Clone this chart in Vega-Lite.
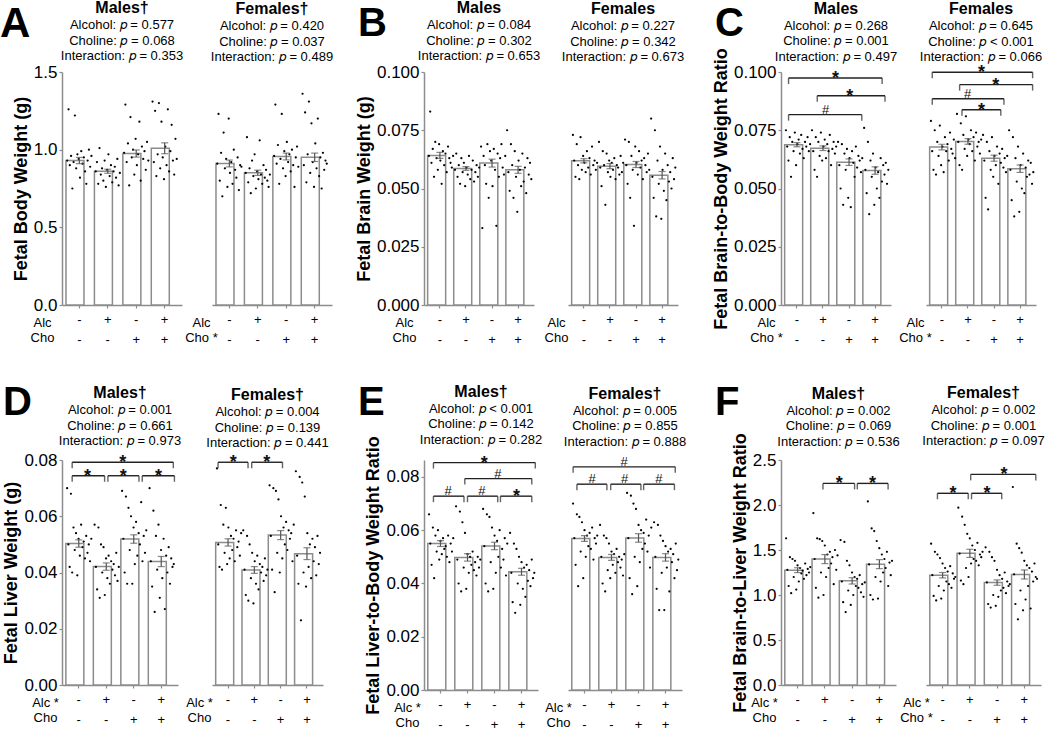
{
"$schema":"https://vega.github.io/schema/vega-lite/v6.json",
"padding":{"left":0,"top":0,"right":0,"bottom":0},
"config":{
 "font":"Liberation Sans",
 "view":{"stroke":null},
 "axis":{"grid":false,"domainColor":"#8c8c8c","tickColor":"#8c8c8c","labelColor":"#000","titleColor":"#000","labelFont":"Liberation Sans","titleFont":"Liberation Sans","domainWidth":1.5,"tickWidth":1.2},
 "axisY":{"labelFontSize":17,"titleFontSize":18,"titleFontWeight":"bold","tickSize":3,"labelPadding":2,"titlePadding":3},
 "axisX":{"labelFontSize":13,"labelAngle":0,"labelLineHeight":20,"labelBaseline":"top","labelPadding":5,"tickSize":3,"titleFontSize":13,"titleFontWeight":"normal","titleLineHeight":15,"titleY":11,"titleAlign":"center","titleBaseline":"top","labelOverlap":false,"labelFlush":false},
 "title":{"font":"Liberation Sans","fontSize":16,"fontWeight":"bold","color":"#000","subtitleFont":"Liberation Sans","subtitleFontSize":13,"subtitleColor":"#000","subtitlePadding":3,"subtitleLineHeight":15.5,"anchor":"middle","frame":"group"}
},
"datasets":{
"AMb":[{"g":1,"m":0.93,"lo":0.91,"hi":0.95},{"g":2,"m":0.861,"lo":0.848,"hi":0.874},{"g":3,"m":0.975,"lo":0.952,"hi":0.998},{"g":4,"m":1.009,"lo":0.974,"hi":1.044}],
"AFb":[{"g":1,"m":0.911,"lo":0.889,"hi":0.933},{"g":2,"m":0.851,"lo":0.834,"hi":0.868},{"g":3,"m":0.956,"lo":0.934,"hi":0.978},{"g":4,"m":0.951,"lo":0.924,"hi":0.978}],
"BMb":[{"g":1,"m":0.0642,"lo":0.0629,"hi":0.0655},{"g":2,"m":0.0586,"lo":0.0578,"hi":0.0594},{"g":3,"m":0.0609,"lo":0.0592,"hi":0.0626},{"g":4,"m":0.058,"lo":0.0565,"hi":0.0595}],
"BFb":[{"g":1,"m":0.0619,"lo":0.061,"hi":0.0628},{"g":2,"m":0.0596,"lo":0.0585,"hi":0.0607},{"g":3,"m":0.0603,"lo":0.059,"hi":0.0616},{"g":4,"m":0.0557,"lo":0.0541,"hi":0.0573}],
"CMb":[{"g":1,"m":0.0688,"lo":0.0679,"hi":0.0697},{"g":2,"m":0.0673,"lo":0.0663,"hi":0.0683},{"g":3,"m":0.0613,"lo":0.0599,"hi":0.0627},{"g":4,"m":0.0577,"lo":0.0561,"hi":0.0593}],
"CFb":[{"g":1,"m":0.0678,"lo":0.0666,"hi":0.069},{"g":2,"m":0.0702,"lo":0.069,"hi":0.0714},{"g":3,"m":0.063,"lo":0.0617,"hi":0.0643},{"g":4,"m":0.0585,"lo":0.0569,"hi":0.0601}],
"DMb":[{"g":1,"m":0.0503,"lo":0.049,"hi":0.0516},{"g":2,"m":0.0421,"lo":0.0408,"hi":0.0434},{"g":3,"m":0.0519,"lo":0.0504,"hi":0.0534},{"g":4,"m":0.0439,"lo":0.0421,"hi":0.0457}],
"DFb":[{"g":1,"m":0.0507,"lo":0.0494,"hi":0.052},{"g":2,"m":0.0409,"lo":0.0397,"hi":0.0421},{"g":3,"m":0.0533,"lo":0.0517,"hi":0.0549},{"g":4,"m":0.0467,"lo":0.0446,"hi":0.0488}],
"EMb":[{"g":1,"m":0.055,"lo":0.0539,"hi":0.0561},{"g":2,"m":0.0498,"lo":0.0484,"hi":0.0512},{"g":3,"m":0.0541,"lo":0.0527,"hi":0.0555},{"g":4,"m":0.0444,"lo":0.0431,"hi":0.0457}],
"EFb":[{"g":1,"m":0.0569,"lo":0.0558,"hi":0.058},{"g":2,"m":0.0498,"lo":0.0487,"hi":0.0509},{"g":3,"m":0.0571,"lo":0.0555,"hi":0.0587},{"g":4,"m":0.0498,"lo":0.0484,"hi":0.0512}],
"FMb":[{"g":1,"m":1.276,"lo":1.249,"hi":1.303},{"g":2,"m":1.399,"lo":1.349,"hi":1.449},{"g":3,"m":1.157,"lo":1.122,"hi":1.192},{"g":4,"m":1.343,"lo":1.293,"hi":1.393}],
"FFb":[{"g":1,"m":1.22,"lo":1.19,"hi":1.25},{"g":2,"m":1.463,"lo":1.418,"hi":1.508},{"g":3,"m":1.138,"lo":1.108,"hi":1.168},{"g":4,"m":1.228,"lo":1.178,"hi":1.278}],
"CMk":[{"x1":0.68,"x2":4.27,"xm":2.48,"y":0.0974,"t":"*"},{"x1":1.78,"x2":4.38,"xm":3.03,"y":0.0898,"t":"*"},{"x1":0.68,"x2":3.49,"xm":2.1,"y":0.0817,"t":"#"}],
"CFk":[{"x1":0.63,"x2":4.48,"xm":2.52,"y":0.0999,"t":"*"},{"x1":1.68,"x2":4.48,"xm":3.07,"y":0.0946,"t":"*"},{"x1":0.63,"x2":3.38,"xm":1.99,"y":0.0885,"t":"#"},{"x1":1.77,"x2":3.26,"xm":2.52,"y":0.0838,"t":"*"}],
"DMk":[{"x1":0.76,"x2":4.44,"xm":2.6,"y":0.0792,"t":"*"},{"x1":0.76,"x2":1.94,"xm":1.32,"y":0.0744,"t":"*"},{"x1":2.06,"x2":3.19,"xm":2.62,"y":0.0744,"t":"*"},{"x1":3.31,"x2":4.48,"xm":3.9,"y":0.0744,"t":"*"}],
"DFk":[{"x1":0.62,"x2":1.76,"xm":1.2,"y":0.0792,"t":"*"},{"x1":1.9,"x2":3.07,"xm":2.47,"y":0.0792,"t":"*"}],
"EMk":[{"x1":0.74,"x2":4.51,"xm":2.62,"y":0.0854,"t":"*"},{"x1":1.9,"x2":4.38,"xm":3.12,"y":0.0794,"t":"#"},{"x1":0.74,"x2":1.87,"xm":1.28,"y":0.0728,"t":"#"},{"x1":2.0,"x2":3.12,"xm":2.53,"y":0.0728,"t":"#"},{"x1":3.22,"x2":4.38,"xm":3.81,"y":0.0728,"t":"*"}],
"EFk":[{"x1":0.58,"x2":4.36,"xm":2.47,"y":0.0838,"t":"#"},{"x1":0.72,"x2":1.83,"xm":1.28,"y":0.0773,"t":"#"},{"x1":1.97,"x2":3.09,"xm":2.49,"y":0.0773,"t":"#"},{"x1":3.19,"x2":4.33,"xm":3.75,"y":0.0773,"t":"#"}],
"FMk":[{"x1":1.93,"x2":3.09,"xm":2.53,"y":2.24,"t":"*"},{"x1":3.19,"x2":4.32,"xm":3.75,"y":2.24,"t":"*"}],
"FFk":[{"x1":2.03,"x2":4.42,"xm":3.25,"y":2.34,"t":"*"},{"x1":0.81,"x2":1.94,"xm":1.38,"y":2.13,"t":"*"},{"x1":2.06,"x2":3.17,"xm":2.63,"y":2.13,"t":"*"}],
"AMd":[{"g":1,"v":0.93},{"g":1,"v":1.26},{"g":1,"v":0.9},{"g":1,"v":0.96},{"g":1,"v":0.75},{"g":1,"v":0.92},{"g":1,"v":1.22},{"g":1,"v":0.88},{"g":1,"v":0.97},{"g":1,"v":0.94},{"g":1,"v":0.82},{"g":1,"v":0.99},{"g":1,"v":0.91},{"g":1,"v":0.95},{"g":1,"v":0.86},{"g":1,"v":0.78},{"g":1,"v":0.93},{"g":1,"v":1.0},{"g":1,"v":0.89},{"g":1,"v":0.96},
{"g":2,"v":0.86},{"g":2,"v":0.92},{"g":2,"v":0.78},{"g":2,"v":1.01},{"g":2,"v":0.84},{"g":2,"v":0.88},{"g":2,"v":0.8},{"g":2,"v":0.93},{"g":2,"v":0.76},{"g":2,"v":0.87},{"g":2,"v":0.97},{"g":2,"v":0.83},{"g":2,"v":0.9},{"g":2,"v":0.79},{"g":2,"v":0.86},{"g":2,"v":0.89},{"g":2,"v":0.82},{"g":2,"v":0.94},{"g":2,"v":0.77},{"g":2,"v":0.85},
{"g":3,"v":0.98},{"g":3,"v":1.29},{"g":3,"v":0.92},{"g":3,"v":1.04},{"g":3,"v":0.77},{"g":3,"v":1.21},{"g":3,"v":0.95},{"g":3,"v":1.0},{"g":3,"v":0.84},{"g":3,"v":1.07},{"g":3,"v":0.9},{"g":3,"v":0.97},{"g":3,"v":1.18},{"g":3,"v":0.8},{"g":3,"v":1.02},{"g":3,"v":0.94},{"g":3,"v":0.99},{"g":3,"v":0.87},{"g":3,"v":1.05},{"g":3,"v":0.93},
{"g":4,"v":1.31},{"g":4,"v":0.92},{"g":4,"v":1.25},{"g":4,"v":0.83},{"g":4,"v":0.97},{"g":4,"v":1.3},{"g":4,"v":0.88},{"g":4,"v":1.18},{"g":4,"v":0.95},{"g":4,"v":0.81},{"g":4,"v":1.02},{"g":4,"v":0.9},{"g":4,"v":1.26},{"g":4,"v":0.86},{"g":4,"v":0.99},{"g":4,"v":1.16},{"g":4,"v":0.93},{"g":4,"v":0.84},{"g":4,"v":1.07},{"g":4,"v":0.94}],
"AFd":[{"g":1,"v":0.91},{"g":1,"v":1.23},{"g":1,"v":0.8},{"g":1,"v":0.98},{"g":1,"v":0.7},{"g":1,"v":1.11},{"g":1,"v":0.88},{"g":1,"v":0.94},{"g":1,"v":0.76},{"g":1,"v":1.2},{"g":1,"v":0.85},{"g":1,"v":0.92},{"g":1,"v":0.78},{"g":1,"v":1.0},{"g":1,"v":0.87},{"g":1,"v":0.82},{"g":1,"v":0.95},{"g":1,"v":0.74},{"g":1,"v":0.9},{"g":1,"v":0.89},
{"g":2,"v":0.85},{"g":2,"v":1.08},{"g":2,"v":0.79},{"g":2,"v":0.88},{"g":2,"v":0.72},{"g":2,"v":0.93},{"g":2,"v":0.83},{"g":2,"v":0.97},{"g":2,"v":0.75},{"g":2,"v":0.86},{"g":2,"v":0.81},{"g":2,"v":1.06},{"g":2,"v":0.84},{"g":2,"v":0.78},{"g":2,"v":0.9},{"g":2,"v":0.82},{"g":2,"v":0.87},{"g":2,"v":0.8},{"g":2,"v":0.76},{"g":2,"v":0.84},
{"g":3,"v":0.96},{"g":3,"v":1.29},{"g":3,"v":0.91},{"g":3,"v":1.03},{"g":3,"v":0.78},{"g":3,"v":0.94},{"g":3,"v":1.23},{"g":3,"v":0.88},{"g":3,"v":0.99},{"g":3,"v":0.83},{"g":3,"v":1.05},{"g":3,"v":0.92},{"g":3,"v":0.97},{"g":3,"v":0.86},{"g":3,"v":1.0},{"g":3,"v":0.9},{"g":3,"v":0.76},{"g":3,"v":0.95},{"g":3,"v":1.02},{"g":3,"v":0.89},
{"g":4,"v":1.36},{"g":4,"v":0.9},{"g":4,"v":1.24},{"g":4,"v":0.79},{"g":4,"v":0.97},{"g":4,"v":1.31},{"g":4,"v":0.85},{"g":4,"v":1.17},{"g":4,"v":0.92},{"g":4,"v":0.76},{"g":4,"v":1.04},{"g":4,"v":0.88},{"g":4,"v":1.2},{"g":4,"v":0.83},{"g":4,"v":0.95},{"g":4,"v":0.75},{"g":4,"v":0.98},{"g":4,"v":0.87},{"g":4,"v":0.93},{"g":4,"v":0.91}],
"BMd":[{"g":1,"v":0.064},{"g":1,"v":0.083},{"g":1,"v":0.061},{"g":1,"v":0.067},{"g":1,"v":0.055},{"g":1,"v":0.07},{"g":1,"v":0.063},{"g":1,"v":0.058},{"g":1,"v":0.069},{"g":1,"v":0.062},{"g":1,"v":0.052},{"g":1,"v":0.066},{"g":1,"v":0.06},{"g":1,"v":0.065},{"g":1,"v":0.057},{"g":1,"v":0.068},{"g":1,"v":0.063},{"g":1,"v":0.061},{"g":1,"v":0.059},{"g":1,"v":0.064},
{"g":2,"v":0.058},{"g":2,"v":0.065},{"g":2,"v":0.055},{"g":2,"v":0.06},{"g":2,"v":0.052},{"g":2,"v":0.063},{"g":2,"v":0.057},{"g":2,"v":0.061},{"g":2,"v":0.051},{"g":2,"v":0.059},{"g":2,"v":0.056},{"g":2,"v":0.064},{"g":2,"v":0.054},{"g":2,"v":0.058},{"g":2,"v":0.062},{"g":2,"v":0.053},{"g":2,"v":0.057},{"g":2,"v":0.06},{"g":2,"v":0.055},{"g":2,"v":0.059},
{"g":3,"v":0.068},{"g":3,"v":0.033},{"g":3,"v":0.064},{"g":3,"v":0.06},{"g":3,"v":0.052},{"g":3,"v":0.069},{"g":3,"v":0.046},{"g":3,"v":0.066},{"g":3,"v":0.062},{"g":3,"v":0.051},{"g":3,"v":0.067},{"g":3,"v":0.058},{"g":3,"v":0.034},{"g":3,"v":0.065},{"g":3,"v":0.055},{"g":3,"v":0.063},{"g":3,"v":0.069},{"g":3,"v":0.059},{"g":3,"v":0.056},{"g":3,"v":0.064},
{"g":4,"v":0.075},{"g":4,"v":0.057},{"g":4,"v":0.049},{"g":4,"v":0.069},{"g":4,"v":0.06},{"g":4,"v":0.046},{"g":4,"v":0.066},{"g":4,"v":0.055},{"g":4,"v":0.04},{"g":4,"v":0.062},{"g":4,"v":0.058},{"g":4,"v":0.051},{"g":4,"v":0.065},{"g":4,"v":0.053},{"g":4,"v":0.059},{"g":4,"v":0.048},{"g":4,"v":0.063},{"g":4,"v":0.056},{"g":4,"v":0.061},{"g":4,"v":0.054}],
"BFd":[{"g":1,"v":0.073},{"g":1,"v":0.062},{"g":1,"v":0.055},{"g":1,"v":0.069},{"g":1,"v":0.06},{"g":1,"v":0.054},{"g":1,"v":0.072},{"g":1,"v":0.058},{"g":1,"v":0.064},{"g":1,"v":0.061},{"g":1,"v":0.057},{"g":1,"v":0.066},{"g":1,"v":0.059},{"g":1,"v":0.063},{"g":1,"v":0.056},{"g":1,"v":0.068},{"g":1,"v":0.06},{"g":1,"v":0.062},{"g":1,"v":0.058},{"g":1,"v":0.061},
{"g":2,"v":0.07},{"g":2,"v":0.059},{"g":2,"v":0.051},{"g":2,"v":0.066},{"g":2,"v":0.06},{"g":2,"v":0.043},{"g":2,"v":0.065},{"g":2,"v":0.057},{"g":2,"v":0.062},{"g":2,"v":0.055},{"g":2,"v":0.061},{"g":2,"v":0.058},{"g":2,"v":0.063},{"g":2,"v":0.054},{"g":2,"v":0.06},{"g":2,"v":0.059},{"g":2,"v":0.056},{"g":2,"v":0.064},{"g":2,"v":0.057},{"g":2,"v":0.061},
{"g":3,"v":0.071},{"g":3,"v":0.06},{"g":3,"v":0.052},{"g":3,"v":0.07},{"g":3,"v":0.046},{"g":3,"v":0.064},{"g":3,"v":0.058},{"g":3,"v":0.034},{"g":3,"v":0.068},{"g":3,"v":0.061},{"g":3,"v":0.056},{"g":3,"v":0.066},{"g":3,"v":0.059},{"g":3,"v":0.062},{"g":3,"v":0.054},{"g":3,"v":0.063},{"g":3,"v":0.06},{"g":3,"v":0.057},{"g":3,"v":0.065},{"g":3,"v":0.058},
{"g":4,"v":0.08},{"g":4,"v":0.055},{"g":4,"v":0.046},{"g":4,"v":0.075},{"g":4,"v":0.038},{"g":4,"v":0.062},{"g":4,"v":0.052},{"g":4,"v":0.068},{"g":4,"v":0.037},{"g":4,"v":0.058},{"g":4,"v":0.049},{"g":4,"v":0.065},{"g":4,"v":0.045},{"g":4,"v":0.06},{"g":4,"v":0.053},{"g":4,"v":0.057},{"g":4,"v":0.05},{"g":4,"v":0.063},{"g":4,"v":0.054},{"g":4,"v":0.059}],
"CMd":[{"g":1,"v":0.075},{"g":1,"v":0.068},{"g":1,"v":0.062},{"g":1,"v":0.072},{"g":1,"v":0.055},{"g":1,"v":0.07},{"g":1,"v":0.066},{"g":1,"v":0.074},{"g":1,"v":0.06},{"g":1,"v":0.069},{"g":1,"v":0.071},{"g":1,"v":0.065},{"g":1,"v":0.073},{"g":1,"v":0.067},{"g":1,"v":0.063},{"g":1,"v":0.07},{"g":1,"v":0.068},{"g":1,"v":0.072},{"g":1,"v":0.066},{"g":1,"v":0.069},
{"g":2,"v":0.075},{"g":2,"v":0.066},{"g":2,"v":0.058},{"g":2,"v":0.072},{"g":2,"v":0.055},{"g":2,"v":0.07},{"g":2,"v":0.064},{"g":2,"v":0.074},{"g":2,"v":0.062},{"g":2,"v":0.068},{"g":2,"v":0.071},{"g":2,"v":0.063},{"g":2,"v":0.069},{"g":2,"v":0.066},{"g":2,"v":0.073},{"g":2,"v":0.06},{"g":2,"v":0.067},{"g":2,"v":0.07},{"g":2,"v":0.065},{"g":2,"v":0.068},
{"g":3,"v":0.07},{"g":3,"v":0.06},{"g":3,"v":0.05},{"g":3,"v":0.069},{"g":3,"v":0.043},{"g":3,"v":0.065},{"g":3,"v":0.058},{"g":3,"v":0.067},{"g":3,"v":0.046},{"g":3,"v":0.063},{"g":3,"v":0.042},{"g":3,"v":0.066},{"g":3,"v":0.061},{"g":3,"v":0.055},{"g":3,"v":0.068},{"g":3,"v":0.059},{"g":3,"v":0.064},{"g":3,"v":0.062},{"g":3,"v":0.057},{"g":3,"v":0.063},
{"g":4,"v":0.076},{"g":4,"v":0.058},{"g":4,"v":0.048},{"g":4,"v":0.07},{"g":4,"v":0.039},{"g":4,"v":0.062},{"g":4,"v":0.055},{"g":4,"v":0.065},{"g":4,"v":0.043},{"g":4,"v":0.059},{"g":4,"v":0.05},{"g":4,"v":0.057},{"g":4,"v":0.046},{"g":4,"v":0.063},{"g":4,"v":0.053},{"g":4,"v":0.06},{"g":4,"v":0.056},{"g":4,"v":0.061},{"g":4,"v":0.052},{"g":4,"v":0.058}],
"CFd":[{"g":1,"v":0.079},{"g":1,"v":0.066},{"g":1,"v":0.058},{"g":1,"v":0.075},{"g":1,"v":0.056},{"g":1,"v":0.07},{"g":1,"v":0.064},{"g":1,"v":0.077},{"g":1,"v":0.06},{"g":1,"v":0.068},{"g":1,"v":0.057},{"g":1,"v":0.072},{"g":1,"v":0.066},{"g":1,"v":0.069},{"g":1,"v":0.062},{"g":1,"v":0.074},{"g":1,"v":0.067},{"g":1,"v":0.065},{"g":1,"v":0.071},{"g":1,"v":0.063},
{"g":2,"v":0.082},{"g":2,"v":0.07},{"g":2,"v":0.06},{"g":2,"v":0.078},{"g":2,"v":0.058},{"g":2,"v":0.073},{"g":2,"v":0.067},{"g":2,"v":0.081},{"g":2,"v":0.064},{"g":2,"v":0.071},{"g":2,"v":0.069},{"g":2,"v":0.075},{"g":2,"v":0.066},{"g":2,"v":0.072},{"g":2,"v":0.062},{"g":2,"v":0.074},{"g":2,"v":0.068},{"g":2,"v":0.07},{"g":2,"v":0.065},{"g":2,"v":0.071},
{"g":3,"v":0.073},{"g":3,"v":0.062},{"g":3,"v":0.046},{"g":3,"v":0.07},{"g":3,"v":0.041},{"g":3,"v":0.066},{"g":3,"v":0.058},{"g":3,"v":0.072},{"g":3,"v":0.055},{"g":3,"v":0.064},{"g":3,"v":0.06},{"g":3,"v":0.068},{"g":3,"v":0.052},{"g":3,"v":0.065},{"g":3,"v":0.061},{"g":3,"v":0.067},{"g":3,"v":0.059},{"g":3,"v":0.063},{"g":3,"v":0.057},{"g":3,"v":0.064},
{"g":4,"v":0.075},{"g":4,"v":0.058},{"g":4,"v":0.045},{"g":4,"v":0.072},{"g":4,"v":0.038},{"g":4,"v":0.063},{"g":4,"v":0.053},{"g":4,"v":0.068},{"g":4,"v":0.04},{"g":4,"v":0.06},{"g":4,"v":0.05},{"g":4,"v":0.065},{"g":4,"v":0.048},{"g":4,"v":0.059},{"g":4,"v":0.055},{"g":4,"v":0.062},{"g":4,"v":0.056},{"g":4,"v":0.061},{"g":4,"v":0.052},{"g":4,"v":0.057}],
"DMd":[{"g":1,"v":0.07},{"g":1,"v":0.05},{"g":1,"v":0.042},{"g":1,"v":0.068},{"g":1,"v":0.04},{"g":1,"v":0.056},{"g":1,"v":0.048},{"g":1,"v":0.054},{"g":1,"v":0.039},{"g":1,"v":0.052},{"g":1,"v":0.046},{"g":1,"v":0.057},{"g":1,"v":0.049},{"g":1,"v":0.051},{"g":1,"v":0.045},{"g":1,"v":0.053},{"g":1,"v":0.047},{"g":1,"v":0.05},{"g":1,"v":0.044},{"g":1,"v":0.052},
{"g":2,"v":0.057},{"g":2,"v":0.042},{"g":2,"v":0.034},{"g":2,"v":0.056},{"g":2,"v":0.031},{"g":2,"v":0.05},{"g":2,"v":0.04},{"g":2,"v":0.049},{"g":2,"v":0.032},{"g":2,"v":0.045},{"g":2,"v":0.038},{"g":2,"v":0.046},{"g":2,"v":0.036},{"g":2,"v":0.044},{"g":2,"v":0.041},{"g":2,"v":0.043},{"g":2,"v":0.039},{"g":2,"v":0.047},{"g":2,"v":0.037},{"g":2,"v":0.042},
{"g":3,"v":0.069},{"g":3,"v":0.052},{"g":3,"v":0.04},{"g":3,"v":0.067},{"g":3,"v":0.036},{"g":3,"v":0.063},{"g":3,"v":0.048},{"g":3,"v":0.06},{"g":3,"v":0.036},{"g":3,"v":0.056},{"g":3,"v":0.043},{"g":3,"v":0.058},{"g":3,"v":0.046},{"g":3,"v":0.054},{"g":3,"v":0.05},{"g":3,"v":0.065},{"g":3,"v":0.044},{"g":3,"v":0.053},{"g":3,"v":0.047},{"g":3,"v":0.055},
{"g":4,"v":0.07},{"g":4,"v":0.044},{"g":4,"v":0.035},{"g":4,"v":0.062},{"g":4,"v":0.026},{"g":4,"v":0.053},{"g":4,"v":0.041},{"g":4,"v":0.057},{"g":4,"v":0.031},{"g":4,"v":0.048},{"g":4,"v":0.038},{"g":4,"v":0.052},{"g":4,"v":0.027},{"g":4,"v":0.046},{"g":4,"v":0.04},{"g":4,"v":0.049},{"g":4,"v":0.036},{"g":4,"v":0.045},{"g":4,"v":0.042},{"g":4,"v":0.043}],
"DFd":[{"g":1,"v":0.077},{"g":1,"v":0.05},{"g":1,"v":0.042},{"g":1,"v":0.064},{"g":1,"v":0.041},{"g":1,"v":0.057},{"g":1,"v":0.047},{"g":1,"v":0.063},{"g":1,"v":0.043},{"g":1,"v":0.056},{"g":1,"v":0.045},{"g":1,"v":0.053},{"g":1,"v":0.048},{"g":1,"v":0.052},{"g":1,"v":0.044},{"g":1,"v":0.055},{"g":1,"v":0.049},{"g":1,"v":0.051},{"g":1,"v":0.046},{"g":1,"v":0.054},
{"g":2,"v":0.055},{"g":2,"v":0.041},{"g":2,"v":0.032},{"g":2,"v":0.053},{"g":2,"v":0.03},{"g":2,"v":0.05},{"g":2,"v":0.038},{"g":2,"v":0.047},{"g":2,"v":0.029},{"g":2,"v":0.044},{"g":2,"v":0.036},{"g":2,"v":0.046},{"g":2,"v":0.034},{"g":2,"v":0.043},{"g":2,"v":0.04},{"g":2,"v":0.042},{"g":2,"v":0.037},{"g":2,"v":0.045},{"g":2,"v":0.039},{"g":2,"v":0.041},
{"g":3,"v":0.071},{"g":3,"v":0.053},{"g":3,"v":0.041},{"g":3,"v":0.07},{"g":3,"v":0.033},{"g":3,"v":0.069},{"g":3,"v":0.047},{"g":3,"v":0.066},{"g":3,"v":0.04},{"g":3,"v":0.06},{"g":3,"v":0.045},{"g":3,"v":0.056},{"g":3,"v":0.05},{"g":3,"v":0.058},{"g":3,"v":0.048},{"g":3,"v":0.055},{"g":3,"v":0.052},{"g":3,"v":0.054},{"g":3,"v":0.044},{"g":3,"v":0.057},
{"g":4,"v":0.076},{"g":4,"v":0.046},{"g":4,"v":0.036},{"g":4,"v":0.074},{"g":4,"v":0.023},{"g":4,"v":0.072},{"g":4,"v":0.04},{"g":4,"v":0.067},{"g":4,"v":0.035},{"g":4,"v":0.054},{"g":4,"v":0.042},{"g":4,"v":0.05},{"g":4,"v":0.038},{"g":4,"v":0.052},{"g":4,"v":0.044},{"g":4,"v":0.049},{"g":4,"v":0.039},{"g":4,"v":0.053},{"g":4,"v":0.043},{"g":4,"v":0.047}],
"EMd":[{"g":1,"v":0.066},{"g":1,"v":0.055},{"g":1,"v":0.047},{"g":1,"v":0.061},{"g":1,"v":0.042},{"g":1,"v":0.058},{"g":1,"v":0.052},{"g":1,"v":0.06},{"g":1,"v":0.049},{"g":1,"v":0.056},{"g":1,"v":0.051},{"g":1,"v":0.057},{"g":1,"v":0.053},{"g":1,"v":0.054},{"g":1,"v":0.05},{"g":1,"v":0.058},{"g":1,"v":0.048},{"g":1,"v":0.055},{"g":1,"v":0.052},{"g":1,"v":0.057},
{"g":2,"v":0.069},{"g":2,"v":0.049},{"g":2,"v":0.04},{"g":2,"v":0.067},{"g":2,"v":0.037},{"g":2,"v":0.063},{"g":2,"v":0.046},{"g":2,"v":0.059},{"g":2,"v":0.038},{"g":2,"v":0.051},{"g":2,"v":0.044},{"g":2,"v":0.05},{"g":2,"v":0.047},{"g":2,"v":0.052},{"g":2,"v":0.045},{"g":2,"v":0.048},{"g":2,"v":0.043},{"g":2,"v":0.05},{"g":2,"v":0.046},{"g":2,"v":0.049},
{"g":3,"v":0.068},{"g":3,"v":0.054},{"g":3,"v":0.04},{"g":3,"v":0.066},{"g":3,"v":0.037},{"g":3,"v":0.065},{"g":3,"v":0.048},{"g":3,"v":0.061},{"g":3,"v":0.038},{"g":3,"v":0.058},{"g":3,"v":0.044},{"g":3,"v":0.056},{"g":3,"v":0.05},{"g":3,"v":0.06},{"g":3,"v":0.046},{"g":3,"v":0.053},{"g":3,"v":0.049},{"g":3,"v":0.057},{"g":3,"v":0.043},{"g":3,"v":0.055},
{"g":4,"v":0.059},{"g":4,"v":0.044},{"g":4,"v":0.033},{"g":4,"v":0.055},{"g":4,"v":0.029},{"g":4,"v":0.053},{"g":4,"v":0.04},{"g":4,"v":0.05},{"g":4,"v":0.032},{"g":4,"v":0.048},{"g":4,"v":0.038},{"g":4,"v":0.046},{"g":4,"v":0.035},{"g":4,"v":0.047},{"g":4,"v":0.041},{"g":4,"v":0.045},{"g":4,"v":0.039},{"g":4,"v":0.049},{"g":4,"v":0.042},{"g":4,"v":0.044}],
"EFd":[{"g":1,"v":0.07},{"g":1,"v":0.057},{"g":1,"v":0.047},{"g":1,"v":0.066},{"g":1,"v":0.039},{"g":1,"v":0.065},{"g":1,"v":0.052},{"g":1,"v":0.063},{"g":1,"v":0.042},{"g":1,"v":0.06},{"g":1,"v":0.05},{"g":1,"v":0.058},{"g":1,"v":0.054},{"g":1,"v":0.059},{"g":1,"v":0.053},{"g":1,"v":0.061},{"g":1,"v":0.049},{"g":1,"v":0.057},{"g":1,"v":0.055},{"g":1,"v":0.058},
{"g":2,"v":0.062},{"g":2,"v":0.05},{"g":2,"v":0.04},{"g":2,"v":0.058},{"g":2,"v":0.037},{"g":2,"v":0.057},{"g":2,"v":0.045},{"g":2,"v":0.055},{"g":2,"v":0.042},{"g":2,"v":0.052},{"g":2,"v":0.047},{"g":2,"v":0.051},{"g":2,"v":0.044},{"g":2,"v":0.053},{"g":2,"v":0.048},{"g":2,"v":0.05},{"g":2,"v":0.046},{"g":2,"v":0.049},{"g":2,"v":0.043},{"g":2,"v":0.051},
{"g":3,"v":0.074},{"g":3,"v":0.057},{"g":3,"v":0.042},{"g":3,"v":0.073},{"g":3,"v":0.036},{"g":3,"v":0.07},{"g":3,"v":0.05},{"g":3,"v":0.068},{"g":3,"v":0.039},{"g":3,"v":0.062},{"g":3,"v":0.048},{"g":3,"v":0.06},{"g":3,"v":0.053},{"g":3,"v":0.059},{"g":3,"v":0.055},{"g":3,"v":0.064},{"g":3,"v":0.052},{"g":3,"v":0.058},{"g":3,"v":0.046},{"g":3,"v":0.061},
{"g":4,"v":0.063},{"g":4,"v":0.05},{"g":4,"v":0.038},{"g":4,"v":0.062},{"g":4,"v":0.03},{"g":4,"v":0.058},{"g":4,"v":0.044},{"g":4,"v":0.056},{"g":4,"v":0.03},{"g":4,"v":0.054},{"g":4,"v":0.046},{"g":4,"v":0.052},{"g":4,"v":0.037},{"g":4,"v":0.053},{"g":4,"v":0.048},{"g":4,"v":0.051},{"g":4,"v":0.042},{"g":4,"v":0.055},{"g":4,"v":0.045},{"g":4,"v":0.049}],
"FMd":[{"g":1,"v":1.63},{"g":1,"v":1.28},{"g":1,"v":1.1},{"g":1,"v":1.42},{"g":1,"v":1.02},{"g":1,"v":1.4},{"g":1,"v":1.2},{"g":1,"v":1.38},{"g":1,"v":1.06},{"g":1,"v":1.33},{"g":1,"v":1.15},{"g":1,"v":1.3},{"g":1,"v":1.24},{"g":1,"v":1.27},{"g":1,"v":1.18},{"g":1,"v":1.35},{"g":1,"v":1.22},{"g":1,"v":1.29},{"g":1,"v":1.25},{"g":1,"v":1.31},
{"g":2,"v":1.91},{"g":2,"v":1.4},{"g":2,"v":1.08},{"g":2,"v":1.63},{"g":2,"v":0.97},{"g":2,"v":1.62},{"g":2,"v":1.25},{"g":2,"v":1.6},{"g":2,"v":1.0},{"g":2,"v":1.55},{"g":2,"v":1.2},{"g":2,"v":1.45},{"g":2,"v":1.3},{"g":2,"v":1.48},{"g":2,"v":1.35},{"g":2,"v":1.42},{"g":2,"v":1.12},{"g":2,"v":1.5},{"g":2,"v":1.28},{"g":2,"v":1.44},
{"g":3,"v":1.61},{"g":3,"v":1.15},{"g":3,"v":0.92},{"g":3,"v":1.59},{"g":3,"v":0.81},{"g":3,"v":1.38},{"g":3,"v":1.05},{"g":3,"v":1.33},{"g":3,"v":0.89},{"g":3,"v":1.25},{"g":3,"v":1.0},{"g":3,"v":1.2},{"g":3,"v":1.1},{"g":3,"v":1.18},{"g":3,"v":1.08},{"g":3,"v":1.22},{"g":3,"v":1.03},{"g":3,"v":1.12},{"g":3,"v":0.98},{"g":3,"v":1.14},
{"g":4,"v":2.04},{"g":4,"v":1.34},{"g":4,"v":1.0},{"g":4,"v":1.74},{"g":4,"v":0.95},{"g":4,"v":1.71},{"g":4,"v":1.2},{"g":4,"v":1.6},{"g":4,"v":0.96},{"g":4,"v":1.52},{"g":4,"v":1.15},{"g":4,"v":1.45},{"g":4,"v":1.25},{"g":4,"v":1.4},{"g":4,"v":1.3},{"g":4,"v":1.48},{"g":4,"v":1.1},{"g":4,"v":1.36},{"g":4,"v":1.22},{"g":4,"v":1.38}],
"FFd":[{"g":1,"v":1.57},{"g":1,"v":1.22},{"g":1,"v":0.99},{"g":1,"v":1.48},{"g":1,"v":0.94},{"g":1,"v":1.45},{"g":1,"v":1.1},{"g":1,"v":1.41},{"g":1,"v":0.96},{"g":1,"v":1.35},{"g":1,"v":1.05},{"g":1,"v":1.3},{"g":1,"v":1.15},{"g":1,"v":1.26},{"g":1,"v":1.12},{"g":1,"v":1.32},{"g":1,"v":1.08},{"g":1,"v":1.24},{"g":1,"v":1.18},{"g":1,"v":1.2},
{"g":2,"v":1.97},{"g":2,"v":1.46},{"g":2,"v":1.16},{"g":2,"v":1.87},{"g":2,"v":1.12},{"g":2,"v":1.78},{"g":2,"v":1.3},{"g":2,"v":1.68},{"g":2,"v":1.2},{"g":2,"v":1.63},{"g":2,"v":1.35},{"g":2,"v":1.55},{"g":2,"v":1.4},{"g":2,"v":1.5},{"g":2,"v":1.38},{"g":2,"v":1.58},{"g":2,"v":1.33},{"g":2,"v":1.45},{"g":2,"v":1.42},{"g":2,"v":1.48},
{"g":3,"v":1.53},{"g":3,"v":1.14},{"g":3,"v":0.9},{"g":3,"v":1.48},{"g":3,"v":0.86},{"g":3,"v":1.42},{"g":3,"v":1.0},{"g":3,"v":1.38},{"g":3,"v":0.88},{"g":3,"v":1.28},{"g":3,"v":0.98},{"g":3,"v":1.22},{"g":3,"v":1.05},{"g":3,"v":1.18},{"g":3,"v":1.08},{"g":3,"v":1.25},{"g":3,"v":1.02},{"g":3,"v":1.15},{"g":3,"v":1.1},{"g":3,"v":1.12},
{"g":4,"v":2.2},{"g":4,"v":1.23},{"g":4,"v":0.9},{"g":4,"v":1.57},{"g":4,"v":0.73},{"g":4,"v":1.52},{"g":4,"v":1.05},{"g":4,"v":1.47},{"g":4,"v":0.83},{"g":4,"v":1.38},{"g":4,"v":0.95},{"g":4,"v":1.33},{"g":4,"v":1.1},{"g":4,"v":1.3},{"g":4,"v":0.85},{"g":4,"v":1.26},{"g":4,"v":1.15},{"g":4,"v":1.35},{"g":4,"v":1.2},{"g":4,"v":1.18}]
},
"columns":9,"align":"each","bounds":"flush","spacing":{"row":155,"column":30},
"concat":[
 {"width":32,"height":1,"data":{"values":[]},"mark":"point","title":{"text":"A","anchor":"start","frame":"group","fontSize":42,"baseline":"alphabetic","dx":0,"dy":42,"offset":35}},
 {"width":120,"height":233,"title":{"text":"Males†","subtitle":["Alcohol: 𝑝 = 0.577","Choline: 𝑝 = 0.068","Interaction: 𝑝 = 0.353"],"offset":0},
  "layer":[
   {"data":{"name":"AMb"},"mark":{"type":"bar","fill":"#fff","stroke":"#8c8c8c","strokeWidth":1.5},"encoding":{"x":{"field":"g","type":"nominal","scale":{"domain":[1,2,3,4],"paddingInner":0.06,"paddingOuter":0.14},"axis":{"title":["Alc","Cho"],"titleX":-20,"labelExpr":"datum.value == 1 ? ['-','-'] : datum.value == 2 ? ['+','-'] : datum.value == 3 ? ['-','+'] : ['+','+']"}},"y":{"field":"m","type":"quantitative","scale":{"domain":[0,1.5],"nice":false},"axis":{"title":"Fetal Body Weight (g)","values":[0,0.5,1,1.5],"format":".1f"}}}},
   {"data":{"name":"AMd"},"transform":[{"window":[{"op":"row_number","as":"i"}],"groupby":["g"]}],"mark":{"type":"circle","size":5,"color":"#000","opacity":1},"encoding":{"x":{"field":"g","type":"nominal"},"xOffset":{"field":"i","type":"nominal","scale":{"type":"point","padding":3}},"y":{"field":"v","type":"quantitative","title":"Fetal Body Weight (g)"}}},
   {"data":{"name":"AMb"},"mark":{"type":"errorbar","ticks":true,"size":7,"thickness":1.2,"color":"#555"},"encoding":{"x":{"field":"g","type":"nominal"},"y":{"field":"lo","type":"quantitative","title":"Fetal Body Weight (g)"},"y2":{"field":"hi"}}}
  ]},
 {"width":120,"height":233,"title":{"text":"Females†","subtitle":["Alcohol: 𝑝 = 0.420","Choline: 𝑝 = 0.037","Interaction: 𝑝 = 0.489"],"offset":8},
  "layer":[
   {"data":{"name":"AFb"},"mark":{"type":"bar","fill":"#fff","stroke":"#8c8c8c","strokeWidth":1.5},"encoding":{"x":{"field":"g","type":"nominal","scale":{"domain":[1,2,3,4],"paddingInner":0.06,"paddingOuter":0.14},"axis":{"title":["Alc","Cho *"],"titleX":-11,"labelExpr":"datum.value == 1 ? ['-','-'] : datum.value == 2 ? ['+','-'] : datum.value == 3 ? ['-','+'] : ['+','+']"}},"y":{"field":"m","type":"quantitative","scale":{"domain":[0,1.5],"nice":false},"axis":null}}},
   {"data":{"name":"AFd"},"transform":[{"window":[{"op":"row_number","as":"i"}],"groupby":["g"]}],"mark":{"type":"circle","size":5,"color":"#000","opacity":1},"encoding":{"x":{"field":"g","type":"nominal"},"xOffset":{"field":"i","type":"nominal","scale":{"type":"point","padding":3}},"y":{"field":"v","type":"quantitative","axis":null}}},
   {"data":{"name":"AFb"},"mark":{"type":"errorbar","ticks":true,"size":7,"thickness":1.2,"color":"#555"},"encoding":{"x":{"field":"g","type":"nominal"},"y":{"field":"lo","type":"quantitative","axis":null},"y2":{"field":"hi"}}}
  ]},
 {"width":32,"height":1,"data":{"values":[]},"mark":"point","title":{"text":"B","anchor":"start","frame":"group","fontSize":40,"baseline":"alphabetic","dx":-4,"dy":42,"offset":38}},
 {"width":110,"height":233,"title":{"text":"Males","subtitle":["Alcohol: 𝑝 = 0.084","Choline: 𝑝 = 0.302","Interaction: 𝑝 = 0.653"],"offset":0},
  "layer":[
   {"data":{"name":"BMb"},"mark":{"type":"bar","fill":"#fff","stroke":"#8c8c8c","strokeWidth":1.5},"encoding":{"x":{"field":"g","type":"nominal","scale":{"domain":[1,2,3,4],"paddingInner":0.06,"paddingOuter":0.14},"axis":{"title":["Alc","Cho"],"titleX":-20,"labelExpr":"datum.value == 1 ? ['-','-'] : datum.value == 2 ? ['+','-'] : datum.value == 3 ? ['-','+'] : ['+','+']"}},"y":{"field":"m","type":"quantitative","scale":{"domain":[0,0.1],"nice":false},"axis":{"title":"Fetal Brain Weight (g)","values":[0,0.025,0.05,0.075,0.1],"format":".3f"}}}},
   {"data":{"name":"BMd"},"transform":[{"window":[{"op":"row_number","as":"i"}],"groupby":["g"]}],"mark":{"type":"circle","size":5,"color":"#000","opacity":1},"encoding":{"x":{"field":"g","type":"nominal"},"xOffset":{"field":"i","type":"nominal","scale":{"type":"point","padding":3}},"y":{"field":"v","type":"quantitative","title":"Fetal Brain Weight (g)"}}},
   {"data":{"name":"BMb"},"mark":{"type":"errorbar","ticks":true,"size":7,"thickness":1.2,"color":"#555"},"encoding":{"x":{"field":"g","type":"nominal"},"y":{"field":"lo","type":"quantitative","title":"Fetal Brain Weight (g)"},"y2":{"field":"hi"}}}
  ]},
 {"width":110,"height":233,"title":{"text":"Females","subtitle":["Alcohol: 𝑝 = 0.227","Choline: 𝑝 = 0.342","Interaction: 𝑝 = 0.673"],"offset":8},
  "layer":[
   {"data":{"name":"BFb"},"mark":{"type":"bar","fill":"#fff","stroke":"#8c8c8c","strokeWidth":1.5},"encoding":{"x":{"field":"g","type":"nominal","scale":{"domain":[1,2,3,4],"paddingInner":0.06,"paddingOuter":0.14},"axis":{"title":["Alc","Cho"],"titleX":-12,"labelExpr":"datum.value == 1 ? ['-','-'] : datum.value == 2 ? ['+','-'] : datum.value == 3 ? ['-','+'] : ['+','+']"}},"y":{"field":"m","type":"quantitative","scale":{"domain":[0,0.1],"nice":false},"axis":null}}},
   {"data":{"name":"BFd"},"transform":[{"window":[{"op":"row_number","as":"i"}],"groupby":["g"]}],"mark":{"type":"circle","size":5,"color":"#000","opacity":1},"encoding":{"x":{"field":"g","type":"nominal"},"xOffset":{"field":"i","type":"nominal","scale":{"type":"point","padding":3}},"y":{"field":"v","type":"quantitative","axis":null}}},
   {"data":{"name":"BFb"},"mark":{"type":"errorbar","ticks":true,"size":7,"thickness":1.2,"color":"#555"},"encoding":{"x":{"field":"g","type":"nominal"},"y":{"field":"lo","type":"quantitative","axis":null},"y2":{"field":"hi"}}}
  ]},
 {"width":39,"height":1,"data":{"values":[]},"mark":"point","title":{"text":"C","anchor":"start","frame":"group","fontSize":40,"baseline":"alphabetic","dx":3,"dy":42,"offset":38}},
 {"width":110,"height":233,"title":{"text":"Males","subtitle":["Alcohol: 𝑝 = 0.268","Choline: 𝑝 = 0.001","Interaction: 𝑝 = 0.497"],"offset":-16},
  "resolve":{"scale":{"x":"independent"}},
  "layer":[
   {"layer":[
    {"data":{"name":"CMb"},"mark":{"type":"bar","fill":"#fff","stroke":"#8c8c8c","strokeWidth":1.5},"encoding":{"x":{"field":"g","type":"nominal","scale":{"domain":[1,2,3,4],"paddingInner":0.06,"paddingOuter":0.14},"axis":{"title":["Alc","Cho *"],"titleX":-15,"labelExpr":"datum.value == 1 ? ['-','-'] : datum.value == 2 ? ['+','-'] : datum.value == 3 ? ['-','+'] : ['+','+']"}},"y":{"field":"m","type":"quantitative","scale":{"domain":[0,0.1],"nice":false},"axis":{"title":"Fetal Brain-to-Body Weight Ratio","values":[0,0.025,0.05,0.075,0.1],"format":".3f"}}}},
    {"data":{"name":"CMd"},"transform":[{"window":[{"op":"row_number","as":"i"}],"groupby":["g"]}],"mark":{"type":"circle","size":5,"color":"#000","opacity":1},"encoding":{"x":{"field":"g","type":"nominal"},"xOffset":{"field":"i","type":"nominal","scale":{"type":"point","padding":3}},"y":{"field":"v","type":"quantitative","title":"Fetal Brain-to-Body Weight Ratio"}}},
    {"data":{"name":"CMb"},"mark":{"type":"errorbar","ticks":true,"size":7,"thickness":1.2,"color":"#555"},"encoding":{"x":{"field":"g","type":"nominal"},"y":{"field":"lo","type":"quantitative","title":"Fetal Brain-to-Body Weight Ratio"},"y2":{"field":"hi"}}}
   ]},
   {"data":{"name":"CMk"},"layer":[
    {"mark":{"type":"rule","color":"#222","strokeWidth":1.4},"encoding":{"x":{"field":"x1","type":"quantitative","scale":{"domain":[0.39,4.61],"nice":false,"zero":false},"axis":null},"x2":{"field":"x2"},"y":{"field":"y","type":"quantitative","title":"Fetal Brain-to-Body Weight Ratio"}}},
    {"mark":{"type":"tick","orient":"vertical","size":6,"thickness":1.4,"color":"#222","yOffset":3},"encoding":{"x":{"field":"x1","type":"quantitative"},"y":{"field":"y","type":"quantitative","title":"Fetal Brain-to-Body Weight Ratio"}}},
    {"mark":{"type":"tick","orient":"vertical","size":6,"thickness":1.4,"color":"#222","yOffset":3},"encoding":{"x":{"field":"x2","type":"quantitative"},"y":{"field":"y","type":"quantitative","title":"Fetal Brain-to-Body Weight Ratio"}}},
    {"transform":[{"filter":"datum.t == '*'"}],"mark":{"type":"text","fontSize":18,"fontWeight":"bold","baseline":"alphabetic","dy":6,"color":"#111"},"encoding":{"x":{"field":"xm","type":"quantitative"},"y":{"field":"y","type":"quantitative","title":"Fetal Brain-to-Body Weight Ratio"},"text":{"field":"t"}}},
    {"transform":[{"filter":"datum.t == '#'"}],"mark":{"type":"text","fontSize":13,"baseline":"alphabetic","dy":-1,"color":"#111"},"encoding":{"x":{"field":"xm","type":"quantitative"},"y":{"field":"y","type":"quantitative","title":"Fetal Brain-to-Body Weight Ratio"},"text":{"field":"t"}}}
   ]}
  ]},
 {"width":110,"height":233,"title":{"text":"Females","subtitle":["Alcohol: 𝑝 = 0.645","Choline: 𝑝 < 0.001","Interaction: 𝑝 = 0.066"],"offset":0},
  "resolve":{"scale":{"x":"independent"}},
  "layer":[
   {"layer":[
    {"data":{"name":"CFb"},"mark":{"type":"bar","fill":"#fff","stroke":"#8c8c8c","strokeWidth":1.5},"encoding":{"x":{"field":"g","type":"nominal","scale":{"domain":[1,2,3,4],"paddingInner":0.06,"paddingOuter":0.14},"axis":{"title":["Alc","Cho *"],"titleX":-11,"labelExpr":"datum.value == 1 ? ['-','-'] : datum.value == 2 ? ['+','-'] : datum.value == 3 ? ['-','+'] : ['+','+']"}},"y":{"field":"m","type":"quantitative","scale":{"domain":[0,0.1],"nice":false},"axis":null}}},
    {"data":{"name":"CFd"},"transform":[{"window":[{"op":"row_number","as":"i"}],"groupby":["g"]}],"mark":{"type":"circle","size":5,"color":"#000","opacity":1},"encoding":{"x":{"field":"g","type":"nominal"},"xOffset":{"field":"i","type":"nominal","scale":{"type":"point","padding":3}},"y":{"field":"v","type":"quantitative","axis":null}}},
    {"data":{"name":"CFb"},"mark":{"type":"errorbar","ticks":true,"size":7,"thickness":1.2,"color":"#555"},"encoding":{"x":{"field":"g","type":"nominal"},"y":{"field":"lo","type":"quantitative","axis":null},"y2":{"field":"hi"}}}
   ]},
   {"data":{"name":"CFk"},"layer":[
    {"mark":{"type":"rule","color":"#222","strokeWidth":1.4},"encoding":{"x":{"field":"x1","type":"quantitative","scale":{"domain":[0.39,4.61],"nice":false,"zero":false},"axis":null},"x2":{"field":"x2"},"y":{"field":"y","type":"quantitative","axis":null}}},
    {"mark":{"type":"tick","orient":"vertical","size":6,"thickness":1.4,"color":"#222","yOffset":3},"encoding":{"x":{"field":"x1","type":"quantitative"},"y":{"field":"y","type":"quantitative","axis":null}}},
    {"mark":{"type":"tick","orient":"vertical","size":6,"thickness":1.4,"color":"#222","yOffset":3},"encoding":{"x":{"field":"x2","type":"quantitative"},"y":{"field":"y","type":"quantitative","axis":null}}},
    {"transform":[{"filter":"datum.t == '*'"}],"mark":{"type":"text","fontSize":18,"fontWeight":"bold","baseline":"alphabetic","dy":6,"color":"#111"},"encoding":{"x":{"field":"xm","type":"quantitative"},"y":{"field":"y","type":"quantitative","axis":null},"text":{"field":"t"}}},
    {"transform":[{"filter":"datum.t == '#'"}],"mark":{"type":"text","fontSize":13,"baseline":"alphabetic","dy":-1,"color":"#111"},"encoding":{"x":{"field":"xm","type":"quantitative"},"y":{"field":"y","type":"quantitative","axis":null},"text":{"field":"t"}}}
   ]}
  ]},
 {"width":32,"height":1,"data":{"values":[]},"mark":"point","title":{"text":"D","anchor":"start","frame":"group","fontSize":40,"baseline":"alphabetic","dx":3,"dy":35,"offset":40}},
 {"width":116,"height":225,"title":{"text":"Males†","subtitle":["Alcohol: 𝑝 = 0.001","Choline: 𝑝 = 0.661","Interaction: 𝑝 = 0.973"],"offset":3},
  "resolve":{"scale":{"x":"independent"}},
  "layer":[
   {"layer":[
    {"data":{"name":"DMb"},"mark":{"type":"bar","fill":"#fff","stroke":"#8c8c8c","strokeWidth":1.5},"encoding":{"x":{"field":"g","type":"nominal","scale":{"domain":[1,2,3,4],"paddingInner":0.06,"paddingOuter":0.14},"axis":{"title":["Alc *","Cho"],"titleX":-17,"labelExpr":"datum.value == 1 ? ['-','-'] : datum.value == 2 ? ['+','-'] : datum.value == 3 ? ['-','+'] : ['+','+']"}},"y":{"field":"m","type":"quantitative","scale":{"domain":[0,0.08],"nice":false},"axis":{"title":"Fetal Liver Weight (g)","values":[0,0.02,0.04,0.06,0.08],"format":".2f"}}}},
    {"data":{"name":"DMd"},"transform":[{"window":[{"op":"row_number","as":"i"}],"groupby":["g"]}],"mark":{"type":"circle","size":5,"color":"#000","opacity":1},"encoding":{"x":{"field":"g","type":"nominal"},"xOffset":{"field":"i","type":"nominal","scale":{"type":"point","padding":3}},"y":{"field":"v","type":"quantitative","title":"Fetal Liver Weight (g)"}}},
    {"data":{"name":"DMb"},"mark":{"type":"errorbar","ticks":true,"size":7,"thickness":1.2,"color":"#555"},"encoding":{"x":{"field":"g","type":"nominal"},"y":{"field":"lo","type":"quantitative","title":"Fetal Liver Weight (g)"},"y2":{"field":"hi"}}}
   ]},
   {"data":{"name":"DMk"},"layer":[
    {"mark":{"type":"rule","color":"#222","strokeWidth":1.4},"encoding":{"x":{"field":"x1","type":"quantitative","scale":{"domain":[0.39,4.61],"nice":false,"zero":false},"axis":null},"x2":{"field":"x2"},"y":{"field":"y","type":"quantitative","title":"Fetal Liver Weight (g)"}}},
    {"mark":{"type":"tick","orient":"vertical","size":6,"thickness":1.4,"color":"#222","yOffset":3},"encoding":{"x":{"field":"x1","type":"quantitative"},"y":{"field":"y","type":"quantitative","title":"Fetal Liver Weight (g)"}}},
    {"mark":{"type":"tick","orient":"vertical","size":6,"thickness":1.4,"color":"#222","yOffset":3},"encoding":{"x":{"field":"x2","type":"quantitative"},"y":{"field":"y","type":"quantitative","title":"Fetal Liver Weight (g)"}}},
    {"transform":[{"filter":"datum.t == '*'"}],"mark":{"type":"text","fontSize":18,"fontWeight":"bold","baseline":"alphabetic","dy":6,"color":"#111"},"encoding":{"x":{"field":"xm","type":"quantitative"},"y":{"field":"y","type":"quantitative","title":"Fetal Liver Weight (g)"},"text":{"field":"t"}}}
   ]}
  ]},
 {"width":111,"height":225,"title":{"text":"Females†","subtitle":["Alcohol: 𝑝 = 0.004","Choline: 𝑝 = 0.139","Interaction: 𝑝 = 0.441"],"offset":4},
  "resolve":{"scale":{"x":"independent"}},
  "layer":[
   {"layer":[
    {"data":{"name":"DFb"},"mark":{"type":"bar","fill":"#fff","stroke":"#8c8c8c","strokeWidth":1.5},"encoding":{"x":{"field":"g","type":"nominal","scale":{"domain":[1,2,3,4],"paddingInner":0.06,"paddingOuter":0.14},"axis":{"title":["Alc *","Cho"],"titleX":-13,"labelExpr":"datum.value == 1 ? ['-','-'] : datum.value == 2 ? ['+','-'] : datum.value == 3 ? ['-','+'] : ['+','+']"}},"y":{"field":"m","type":"quantitative","scale":{"domain":[0,0.08],"nice":false},"axis":null}}},
    {"data":{"name":"DFd"},"transform":[{"window":[{"op":"row_number","as":"i"}],"groupby":["g"]}],"mark":{"type":"circle","size":5,"color":"#000","opacity":1},"encoding":{"x":{"field":"g","type":"nominal"},"xOffset":{"field":"i","type":"nominal","scale":{"type":"point","padding":3}},"y":{"field":"v","type":"quantitative","axis":null}}},
    {"data":{"name":"DFb"},"mark":{"type":"errorbar","ticks":true,"size":7,"thickness":1.2,"color":"#555"},"encoding":{"x":{"field":"g","type":"nominal"},"y":{"field":"lo","type":"quantitative","axis":null},"y2":{"field":"hi"}}}
   ]},
   {"data":{"name":"DFk"},"layer":[
    {"mark":{"type":"rule","color":"#222","strokeWidth":1.4},"encoding":{"x":{"field":"x1","type":"quantitative","scale":{"domain":[0.39,4.61],"nice":false,"zero":false},"axis":null},"x2":{"field":"x2"},"y":{"field":"y","type":"quantitative","axis":null}}},
    {"mark":{"type":"tick","orient":"vertical","size":6,"thickness":1.4,"color":"#222","yOffset":3},"encoding":{"x":{"field":"x1","type":"quantitative"},"y":{"field":"y","type":"quantitative","axis":null}}},
    {"mark":{"type":"tick","orient":"vertical","size":6,"thickness":1.4,"color":"#222","yOffset":3},"encoding":{"x":{"field":"x2","type":"quantitative"},"y":{"field":"y","type":"quantitative","axis":null}}},
    {"transform":[{"filter":"datum.t == '*'"}],"mark":{"type":"text","fontSize":18,"fontWeight":"bold","baseline":"alphabetic","dy":6,"color":"#111"},"encoding":{"x":{"field":"xm","type":"quantitative"},"y":{"field":"y","type":"quantitative","axis":null},"text":{"field":"t"}}}
   ]}
  ]},
 {"width":32,"height":1,"data":{"values":[]},"mark":"point","title":{"text":"E","anchor":"start","frame":"group","fontSize":40,"baseline":"alphabetic","dx":-4,"dy":35,"offset":40}},
 {"width":114,"height":230,"title":{"text":"Males†","subtitle":["Alcohol: 𝑝 < 0.001","Choline: 𝑝 = 0.142","Interaction: 𝑝 = 0.282"],"offset":-11},
  "resolve":{"scale":{"x":"independent"}},
  "layer":[
   {"layer":[
    {"data":{"name":"EMb"},"mark":{"type":"bar","fill":"#fff","stroke":"#8c8c8c","strokeWidth":1.5},"encoding":{"x":{"field":"g","type":"nominal","scale":{"domain":[1,2,3,4],"paddingInner":0.06,"paddingOuter":0.14},"axis":{"title":["Alc *","Cho"],"titleX":-17,"labelExpr":"datum.value == 1 ? ['-','-'] : datum.value == 2 ? ['+','-'] : datum.value == 3 ? ['-','+'] : ['+','+']"}},"y":{"field":"m","type":"quantitative","scale":{"domain":[0,0.08638],"nice":false},"axis":{"title":"Fetal Liver-to-Body Weight Ratio","values":[0,0.02,0.04,0.06,0.08],"format":".2f"}}}},
    {"data":{"name":"EMd"},"transform":[{"window":[{"op":"row_number","as":"i"}],"groupby":["g"]}],"mark":{"type":"circle","size":5,"color":"#000","opacity":1},"encoding":{"x":{"field":"g","type":"nominal"},"xOffset":{"field":"i","type":"nominal","scale":{"type":"point","padding":3}},"y":{"field":"v","type":"quantitative","title":"Fetal Liver-to-Body Weight Ratio"}}},
    {"data":{"name":"EMb"},"mark":{"type":"errorbar","ticks":true,"size":7,"thickness":1.2,"color":"#555"},"encoding":{"x":{"field":"g","type":"nominal"},"y":{"field":"lo","type":"quantitative","title":"Fetal Liver-to-Body Weight Ratio"},"y2":{"field":"hi"}}}
   ]},
   {"data":{"name":"EMk"},"layer":[
    {"mark":{"type":"rule","color":"#222","strokeWidth":1.4},"encoding":{"x":{"field":"x1","type":"quantitative","scale":{"domain":[0.39,4.61],"nice":false,"zero":false},"axis":null},"x2":{"field":"x2"},"y":{"field":"y","type":"quantitative","title":"Fetal Liver-to-Body Weight Ratio"}}},
    {"mark":{"type":"tick","orient":"vertical","size":6,"thickness":1.4,"color":"#222","yOffset":3},"encoding":{"x":{"field":"x1","type":"quantitative"},"y":{"field":"y","type":"quantitative","title":"Fetal Liver-to-Body Weight Ratio"}}},
    {"mark":{"type":"tick","orient":"vertical","size":6,"thickness":1.4,"color":"#222","yOffset":3},"encoding":{"x":{"field":"x2","type":"quantitative"},"y":{"field":"y","type":"quantitative","title":"Fetal Liver-to-Body Weight Ratio"}}},
    {"transform":[{"filter":"datum.t == '*'"}],"mark":{"type":"text","fontSize":18,"fontWeight":"bold","baseline":"alphabetic","dy":6,"color":"#111"},"encoding":{"x":{"field":"xm","type":"quantitative"},"y":{"field":"y","type":"quantitative","title":"Fetal Liver-to-Body Weight Ratio"},"text":{"field":"t"}}},
    {"transform":[{"filter":"datum.t == '#'"}],"mark":{"type":"text","fontSize":13,"baseline":"alphabetic","dy":-1,"color":"#111"},"encoding":{"x":{"field":"xm","type":"quantitative"},"y":{"field":"y","type":"quantitative","title":"Fetal Liver-to-Body Weight Ratio"},"text":{"field":"t"}}}
   ]}
  ]},
 {"width":114,"height":230,"title":{"text":"Females†","subtitle":["Alcohol: 𝑝 = 0.005","Choline: 𝑝 = 0.855","Interaction: 𝑝 = 0.888"],"offset":7},
  "resolve":{"scale":{"x":"independent"}},
  "layer":[
   {"layer":[
    {"data":{"name":"EFb"},"mark":{"type":"bar","fill":"#fff","stroke":"#8c8c8c","strokeWidth":1.5},"encoding":{"x":{"field":"g","type":"nominal","scale":{"domain":[1,2,3,4],"paddingInner":0.06,"paddingOuter":0.14},"axis":{"title":["Alc *","Cho"],"titleX":-10,"labelExpr":"datum.value == 1 ? ['-','-'] : datum.value == 2 ? ['+','-'] : datum.value == 3 ? ['-','+'] : ['+','+']"}},"y":{"field":"m","type":"quantitative","scale":{"domain":[0,0.08638],"nice":false},"axis":null}}},
    {"data":{"name":"EFd"},"transform":[{"window":[{"op":"row_number","as":"i"}],"groupby":["g"]}],"mark":{"type":"circle","size":5,"color":"#000","opacity":1},"encoding":{"x":{"field":"g","type":"nominal"},"xOffset":{"field":"i","type":"nominal","scale":{"type":"point","padding":3}},"y":{"field":"v","type":"quantitative","axis":null}}},
    {"data":{"name":"EFb"},"mark":{"type":"errorbar","ticks":true,"size":7,"thickness":1.2,"color":"#555"},"encoding":{"x":{"field":"g","type":"nominal"},"y":{"field":"lo","type":"quantitative","axis":null},"y2":{"field":"hi"}}}
   ]},
   {"data":{"name":"EFk"},"layer":[
    {"mark":{"type":"rule","color":"#222","strokeWidth":1.4},"encoding":{"x":{"field":"x1","type":"quantitative","scale":{"domain":[0.39,4.61],"nice":false,"zero":false},"axis":null},"x2":{"field":"x2"},"y":{"field":"y","type":"quantitative","axis":null}}},
    {"mark":{"type":"tick","orient":"vertical","size":6,"thickness":1.4,"color":"#222","yOffset":3},"encoding":{"x":{"field":"x1","type":"quantitative"},"y":{"field":"y","type":"quantitative","axis":null}}},
    {"mark":{"type":"tick","orient":"vertical","size":6,"thickness":1.4,"color":"#222","yOffset":3},"encoding":{"x":{"field":"x2","type":"quantitative"},"y":{"field":"y","type":"quantitative","axis":null}}},
    {"transform":[{"filter":"datum.t == '#'"}],"mark":{"type":"text","fontSize":13,"baseline":"alphabetic","dy":-1,"color":"#111"},"encoding":{"x":{"field":"xm","type":"quantitative"},"y":{"field":"y","type":"quantitative","axis":null},"text":{"field":"t"}}}
   ]}
  ]},
 {"width":39,"height":1,"data":{"values":[]},"mark":"point","title":{"text":"F","anchor":"start","frame":"group","fontSize":40,"baseline":"alphabetic","dx":3,"dy":35,"offset":40}},
 {"width":115,"height":225,"title":{"text":"Males†","subtitle":["Alcohol: 𝑝 = 0.002","Choline: 𝑝 = 0.069","Interaction: 𝑝 = 0.536"],"offset":-16},
  "resolve":{"scale":{"x":"independent"}},
  "layer":[
   {"layer":[
    {"data":{"name":"FMb"},"mark":{"type":"bar","fill":"#fff","stroke":"#8c8c8c","strokeWidth":1.5},"encoding":{"x":{"field":"g","type":"nominal","scale":{"domain":[1,2,3,4],"paddingInner":0.06,"paddingOuter":0.14},"axis":{"title":["Alc *","Cho"],"titleX":-17,"labelExpr":"datum.value == 1 ? ['-','-'] : datum.value == 2 ? ['+','-'] : datum.value == 3 ? ['-','+'] : ['+','+']"}},"y":{"field":"m","type":"quantitative","scale":{"domain":[0,2.5],"nice":false},"axis":{"title":"Fetal Brain-to-Liver Weight Ratio","values":[0,0.5,1,1.5,2,2.5],"format":".1f"}}}},
    {"data":{"name":"FMd"},"transform":[{"window":[{"op":"row_number","as":"i"}],"groupby":["g"]}],"mark":{"type":"circle","size":5,"color":"#000","opacity":1},"encoding":{"x":{"field":"g","type":"nominal"},"xOffset":{"field":"i","type":"nominal","scale":{"type":"point","padding":3}},"y":{"field":"v","type":"quantitative","title":"Fetal Brain-to-Liver Weight Ratio"}}},
    {"data":{"name":"FMb"},"mark":{"type":"errorbar","ticks":true,"size":7,"thickness":1.2,"color":"#555"},"encoding":{"x":{"field":"g","type":"nominal"},"y":{"field":"lo","type":"quantitative","title":"Fetal Brain-to-Liver Weight Ratio"},"y2":{"field":"hi"}}}
   ]},
   {"data":{"name":"FMk"},"layer":[
    {"mark":{"type":"rule","color":"#222","strokeWidth":1.4},"encoding":{"x":{"field":"x1","type":"quantitative","scale":{"domain":[0.39,4.61],"nice":false,"zero":false},"axis":null},"x2":{"field":"x2"},"y":{"field":"y","type":"quantitative","title":"Fetal Brain-to-Liver Weight Ratio"}}},
    {"mark":{"type":"tick","orient":"vertical","size":6,"thickness":1.4,"color":"#222","yOffset":3},"encoding":{"x":{"field":"x1","type":"quantitative"},"y":{"field":"y","type":"quantitative","title":"Fetal Brain-to-Liver Weight Ratio"}}},
    {"mark":{"type":"tick","orient":"vertical","size":6,"thickness":1.4,"color":"#222","yOffset":3},"encoding":{"x":{"field":"x2","type":"quantitative"},"y":{"field":"y","type":"quantitative","title":"Fetal Brain-to-Liver Weight Ratio"}}},
    {"transform":[{"filter":"datum.t == '*'"}],"mark":{"type":"text","fontSize":18,"fontWeight":"bold","baseline":"alphabetic","dy":6,"color":"#111"},"encoding":{"x":{"field":"xm","type":"quantitative"},"y":{"field":"y","type":"quantitative","title":"Fetal Brain-to-Liver Weight Ratio"},"text":{"field":"t"}}}
   ]}
  ]},
 {"width":115,"height":225,"title":{"text":"Females†","subtitle":["Alcohol: 𝑝 = 0.002","Choline: 𝑝 = 0.001","Interaction: 𝑝 = 0.097"],"offset":12},
  "resolve":{"scale":{"x":"independent"}},
  "layer":[
   {"layer":[
    {"data":{"name":"FFb"},"mark":{"type":"bar","fill":"#fff","stroke":"#8c8c8c","strokeWidth":1.5},"encoding":{"x":{"field":"g","type":"nominal","scale":{"domain":[1,2,3,4],"paddingInner":0.06,"paddingOuter":0.14},"axis":{"title":["Alc *","Cho *"],"titleX":-10,"labelExpr":"datum.value == 1 ? ['-','-'] : datum.value == 2 ? ['+','-'] : datum.value == 3 ? ['-','+'] : ['+','+']"}},"y":{"field":"m","type":"quantitative","scale":{"domain":[0,2.5],"nice":false},"axis":null}}},
    {"data":{"name":"FFd"},"transform":[{"window":[{"op":"row_number","as":"i"}],"groupby":["g"]}],"mark":{"type":"circle","size":5,"color":"#000","opacity":1},"encoding":{"x":{"field":"g","type":"nominal"},"xOffset":{"field":"i","type":"nominal","scale":{"type":"point","padding":3}},"y":{"field":"v","type":"quantitative","axis":null}}},
    {"data":{"name":"FFb"},"mark":{"type":"errorbar","ticks":true,"size":7,"thickness":1.2,"color":"#555"},"encoding":{"x":{"field":"g","type":"nominal"},"y":{"field":"lo","type":"quantitative","axis":null},"y2":{"field":"hi"}}}
   ]},
   {"data":{"name":"FFk"},"layer":[
    {"mark":{"type":"rule","color":"#222","strokeWidth":1.4},"encoding":{"x":{"field":"x1","type":"quantitative","scale":{"domain":[0.39,4.61],"nice":false,"zero":false},"axis":null},"x2":{"field":"x2"},"y":{"field":"y","type":"quantitative","axis":null}}},
    {"mark":{"type":"tick","orient":"vertical","size":6,"thickness":1.4,"color":"#222","yOffset":3},"encoding":{"x":{"field":"x1","type":"quantitative"},"y":{"field":"y","type":"quantitative","axis":null}}},
    {"mark":{"type":"tick","orient":"vertical","size":6,"thickness":1.4,"color":"#222","yOffset":3},"encoding":{"x":{"field":"x2","type":"quantitative"},"y":{"field":"y","type":"quantitative","axis":null}}},
    {"transform":[{"filter":"datum.t == '*'"}],"mark":{"type":"text","fontSize":18,"fontWeight":"bold","baseline":"alphabetic","dy":6,"color":"#111"},"encoding":{"x":{"field":"xm","type":"quantitative"},"y":{"field":"y","type":"quantitative","axis":null},"text":{"field":"t"}}}
   ]}
  ]}
]
}
